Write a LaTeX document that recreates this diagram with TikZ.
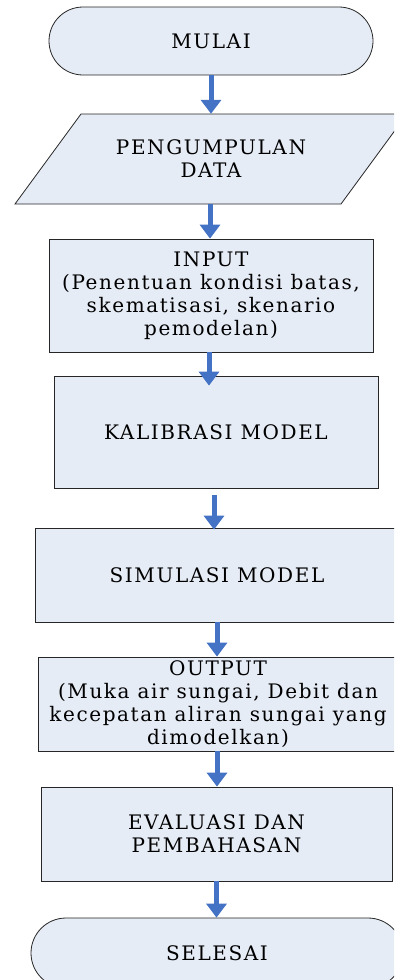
\documentclass[tikz,border=0pt]{standalone}
\usepackage{fontspec}
\setmainfont{DejaVu Serif}[LetterSpace=8]
\usetikzlibrary{arrows.meta}
\definecolor{boxfill}{RGB}{230,236,246}
\definecolor{arrblue}{RGB}{68,114,196}
\begin{document}
\begin{tikzpicture}[x=1pt,y=-1pt,
  txt/.style={align=center,inner sep=0pt,font=\fontsize{20}{23}\selectfont},
  box/.style={txt,draw=black!85,line width=0.8pt,fill=boxfill},
  term/.style={box,rounded corners=34pt},
  flow/.style={arrblue,line width=5pt,-{Triangle[width=20pt,length=14pt]}}]
\useasboundingbox (0,0) rectangle (394,980);
\clip (0,0) rectangle (394,980);
\node[term,minimum width=324pt,minimum height=68pt] (mulai) at (211,41) {MULAI};
\draw[draw=black!85,line width=0.8pt,fill=boxfill] (81,114) -- (407,114) -- (341,204) -- (15,204) -- cycle;
\node[txt,minimum width=260pt,minimum height=90pt] (data) at (211,159) {PENGUMPULAN\\DATA};
\node[box,minimum width=324pt,minimum height=113pt] (input) at (211,295.5) {INPUT\\(Penentuan kondisi batas,\\skematisasi, skenario\\pemodelan)};
\node[box,minimum width=324pt,minimum height=112pt] (kalib) at (216,432) {KALIBRASI MODEL};
\node[box,minimum width=364pt,minimum height=94pt] (simul) at (217,575) {SIMULASI MODEL};
\node[box,minimum width=360pt,minimum height=94pt] (output) at (218,704) {OUTPUT\\(Muka air sungai, Debit dan\\kecepatan aliran sungai yang\\dimodelkan)};
\node[box,minimum width=351pt,minimum height=94pt] (eval) at (216.5,834) {EVALUASI DAN\\PEMBAHASAN};
\node[term,rounded corners=35pt,minimum width=372pt,minimum height=70pt] (selesai) at (217,953) {SELESAI};
\draw[flow] (mulai.south) -- (data.north);
\draw[flow] ([xshift=-1pt]data.south) -- ([xshift=-1pt]input.north);
\draw[flow] ([xshift=-2pt]input.south) -- ([xshift=-2pt,yshift=-10pt]input.south |- kalib.north);
\draw[flow] ([xshift=-2pt,yshift=-7pt]kalib.south) -- ([xshift=-2pt,yshift=-2pt]kalib.south |- simul.north);
\draw[flow] (simul.south) -- (simul.south |- output.north);
\draw[flow] ([xshift=-1pt]output.south) -- ([xshift=-1pt]output.south |- eval.north);
\draw[flow] (eval.south) -- (eval.south |- selesai.north);
\end{tikzpicture}
\end{document}
